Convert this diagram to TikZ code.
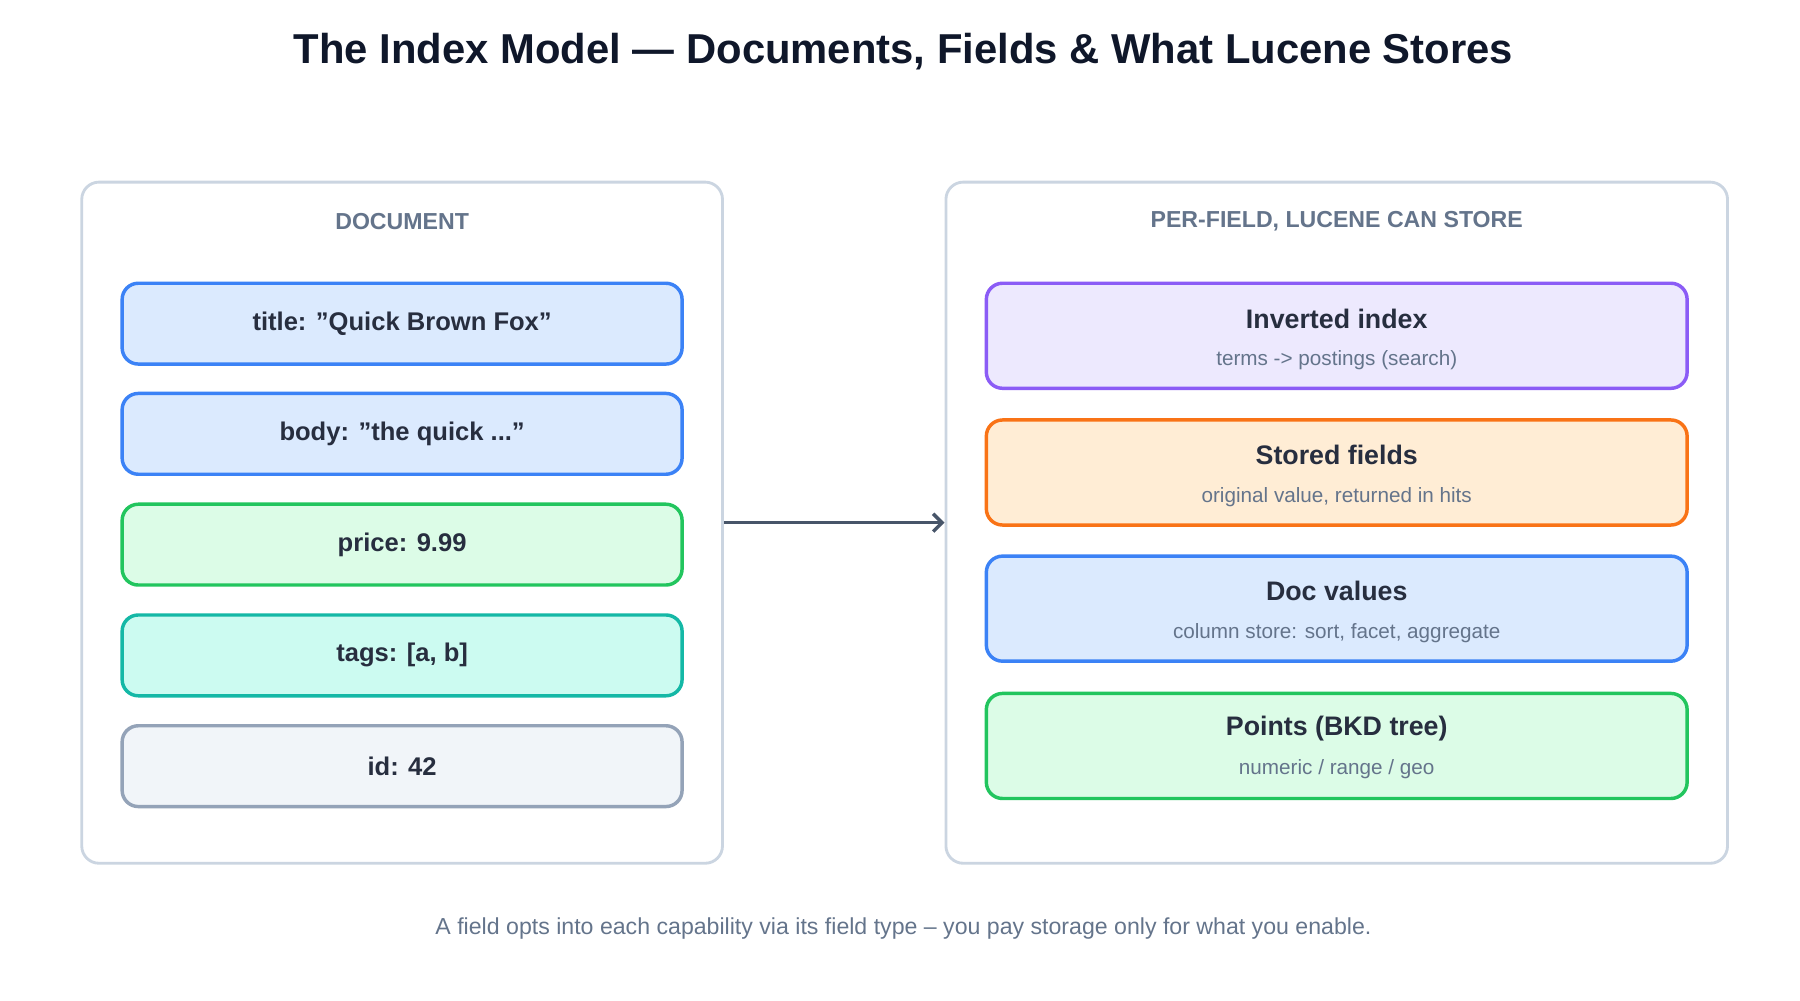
\documentclass[tikz,border=0pt]{standalone}
\usepackage{fontspec}
\setmainfont{Liberation Sans}
\usetikzlibrary{arrows.meta}
\definecolor{ink}{HTML}{0F172A}
\definecolor{muted}{HTML}{64748B}
\definecolor{panelb}{HTML}{CBD5E1}
\definecolor{blueb}{HTML}{3B82F6}\definecolor{bluef}{HTML}{DBEAFE}
\definecolor{greenb}{HTML}{22C55E}\definecolor{greenf}{HTML}{DCFCE7}
\definecolor{tealb}{HTML}{14B8A6}\definecolor{tealf}{HTML}{CCFBF1}
\definecolor{grayb}{HTML}{94A3B8}\definecolor{grayf}{HTML}{F1F5F9}
\definecolor{purpb}{HTML}{8B5CF6}\definecolor{purpf}{HTML}{EDE9FE}
\definecolor{orab}{HTML}{F97316}\definecolor{oraf}{HTML}{FFEDD5}
\definecolor{arr}{HTML}{475569}
\begin{document}
\begin{tikzpicture}[x=0.01cm,y=-0.01cm,
  panel/.style={draw=panelb,line width=0.7pt,rounded corners=0.15cm,fill=white},
  field/.style={draw=#1b,fill=#1f,line width=0.85pt,rounded corners=0.14cm,minimum width=4.85cm,minimum height=0.70cm,font=\fontsize{6.3}{7}\selectfont\bfseries,text=ink!90},
  cap/.style={draw=#1b,fill=#1f,line width=0.85pt,rounded corners=0.14cm,minimum width=6.07cm,minimum height=0.91cm},
  head/.style={font=\fontsize{5.7}{7}\selectfont\bfseries,text=muted},
  ctitle/.style={font=\fontsize{6.6}{8}\selectfont\bfseries,text=ink!90},
  csub/.style={font=\fontsize{5.1}{6}\selectfont,text=muted}]
\useasboundingbox (0,0) rectangle (1560,867);
\node[font=\fontsize{10.3}{12}\selectfont\bfseries,text=ink] (title) at (783,45) {The Index Model — Documents, Fields \& What Lucene Stores};
\node[panel,minimum width=5.55cm,minimum height=5.9cm] (left) at (348.5,453) {};
\node[panel,minimum width=6.77cm,minimum height=5.9cm] (right) at (1158.5,453) {};
\node[head] (lh) at (348.5,192) {DOCUMENT};
\node[head] (rh) at (1158.5,192) {PER-FIELD, LUCENE CAN STORE};
\node[field=blue] (f1) at (348.5,280.5) {title: "Quick Brown Fox"};
\node[field=blue] (f2) at (348.5,376) {body: "the quick ..."};
\node[field=green] (f3) at (348.5,472) {price: 9.99};
\node[field=teal] (f4) at (348.5,568) {tags: [a, b]};
\node[field=gray] (f5) at (348.5,664) {id: 42};
\node[cap=purp] (c1) at (1158.5,291) {};
\node[ctitle] at (1158.5,276) {Inverted index};
\node[csub] at (1158.5,312) {terms -> postings (search)};
\node[cap=ora] (c2) at (1158.5,409.5) {};
\node[ctitle] at (1158.5,394) {Stored fields};
\node[csub] at (1158.5,431) {original value, returned in hits};
\node[cap=blue] (c3) at (1158.5,527.5) {};
\node[ctitle] at (1158.5,512) {Doc values};
\node[csub] at (1158.5,549) {column store: sort, facet, aggregate};
\node[cap=green] (c4) at (1158.5,646.5) {};
\node[ctitle] at (1158.5,631) {Points (BKD tree)};
\node[csub] at (1158.5,667) {numeric / range / geo};
\draw[arr,line width=0.85pt,-{Straight Barb[length=2.2pt,width=4.4pt]}] (left.east) -- (right.west);
\node[font=\fontsize{5.7}{7}\selectfont,text=muted] (foot) at (783,805) {A field opts into each capability via its field type -- you pay storage only for what you enable.};
\end{tikzpicture}
\end{document}
